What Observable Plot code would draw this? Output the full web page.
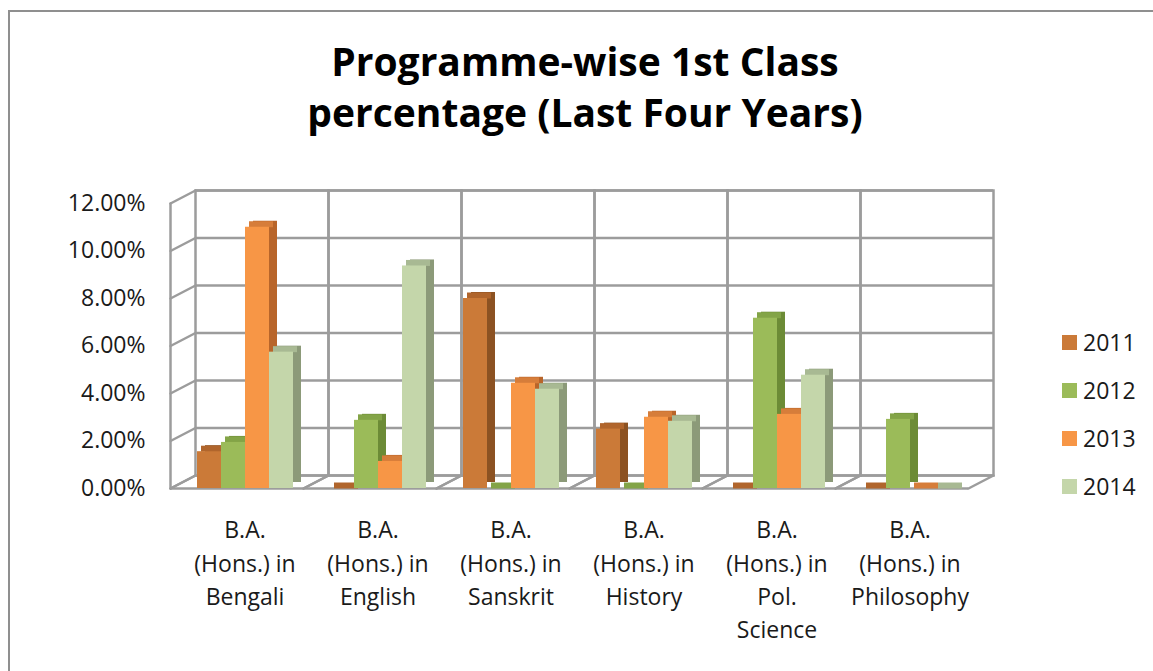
<!DOCTYPE html>
<html>
<head>
<meta charset="utf-8">
<script src="https://cdn.jsdelivr.net/npm/d3@7"></script>
<script src="https://cdn.jsdelivr.net/npm/@observablehq/plot@0.6"></script>
<style>
  html, body { margin: 0; padding: 0; background: #fff; width: 1153px; height: 671px; overflow: hidden; }
  #frame { position: absolute; left: 8px; top: 10px; width: 1300px; height: 800px;
           border-left: 2px solid #8f8f8f; border-top: 2px solid #8f8f8f; }
  .title { position: absolute; left: 235px; width: 700px; text-align: center; white-space: nowrap;
           font-family: "Open Sans", sans-serif; font-weight: 700; font-size: 39px; line-height: 46px; color: #000; }
  #title1 { top: 38px; }
  #title2 { top: 89px; }
  #chart { position: absolute; left: 0; top: 0; }
  #legend { position: absolute; left: 1062px; top: 318px; }
  .lg-swatches { margin: 0 !important; font-family: "Open Sans", sans-serif !important; font-size: 23px !important; color: #1a1a1a !important; }
  .lg-swatch { height: 48px !important; margin: 0 !important; padding: 0 !important; display: flex !important; align-items: center !important; }
  .lg-swatch > svg { margin-right: 6px !important; }
</style>
</head>
<body>
<div id="frame"></div>
<div id="chart"></div>
<div class="title" id="title1">Programme-wise 1st Class</div>
<div class="title" id="title2">percentage (Last Four Years)</div>
<div id="legend"></div>
<script>
// ---- data ----
const categories = [
  "B.A. (Hons.) in Bengali",
  "B.A. (Hons.) in English",
  "B.A. (Hons.) in Sanskrit",
  "B.A. (Hons.) in History",
  "B.A. (Hons.) in Pol. Science",
  "B.A. (Hons.) in Philosophy"
];
const categoryLabels = [
  "B.A.\n(Hons.) in\nBengali",
  "B.A.\n(Hons.) in\nEnglish",
  "B.A.\n(Hons.) in\nSanskrit",
  "B.A.\n(Hons.) in\nHistory",
  "B.A.\n(Hons.) in\nPol.\nScience",
  "B.A.\n(Hons.) in\nPhilosophy"
];
const years = ["2011", "2012", "2013", "2014"];
const values2011 = [0.0155, 0.0000, 0.0800, 0.0250, 0.0000, 0.0000];
const values2012 = [0.0194, 0.0287, 0.0000, 0.0000, 0.0717, 0.0291];
const values2013 = [0.1100, 0.0114, 0.0443, 0.0300, 0.0312, 0.0000];
const values2014 = [0.0574, 0.0937, 0.0418, 0.0283, 0.0477, 0.0000];
const yTicks = [0, 0.02, 0.04, 0.06, 0.08, 0.10, 0.12];

// ---- styles ----
const frontColors = ["#CB7A38", "#9BBB59", "#F79646", "#C4D6AA"];
const sideColors  = ["#8C5222", "#6C8B36", "#B8652A", "#8C9A79"];
const topColors   = ["#B0652C", "#83A447", "#D67D3A", "#A8B993"];

const seriesByYear = [values2011, values2012, values2013, values2014];
const data = years.flatMap((year, j) =>
  categories.map((category, i) => ({category, year, value: seriesByYear[j][i]}))
);

const gridStyle = {stroke: "#9c9c9c", strokeWidth: 2.5, strokeOpacity: 1};
const wallShift = {dx: 17, dy: -13};
const segment = {draw(context, l) { context.moveTo(0, 0); context.lineTo(0, -l); }};
const diag = {
  length: Math.hypot(25, 13),
  rotate: Math.atan2(25, 13) * 180 / Math.PI,
  anchor: "start", shape: segment, dx: -8, ...gridStyle
};

const barMarks = years.flatMap((year, j) => {
  const sub = data.filter(d => d.year === year);
  return [
    Plot.barY(sub, {fx: "category", x: "year", y: "value", fill: sideColors[j], dx: 8, dy: -6}),
    Plot.tickY(sub, {fx: "category", x: "year", y: "value", stroke: topColors[j], strokeWidth: 6, dx: 4, dy: -3}),
    Plot.barY(sub, {fx: "category", x: "year", y: "value", fill: frontColors[j]})
  ];
});

const chart = Plot.plot({
  width: 1153,
  height: 671,
  marginLeft: 178,
  marginRight: 177,
  marginTop: 203,
  marginBottom: 183,
  style: {fontFamily: "'Open Sans', sans-serif", color: "#1a1a1a", background: "transparent", overflow: "visible"},
  fx: {domain: categories, padding: 0, axis: null},
  x: {domain: years, paddingInner: 0, paddingOuter: 0.75, axis: null},
  y: {domain: [0, 0.12], axis: null},
  marks: [
    // back wall
    Plot.ruleY(yTicks, {...gridStyle, ...wallShift}),
    Plot.frame({...gridStyle, ...wallShift}),
    // floor
    Plot.ruleY([0], {...gridStyle, dx: -8}),
    Plot.vector([0], {...diag, frameAnchor: "bottom-left"}),
    Plot.vector([0], {...diag, frameAnchor: "bottom-right"}),
    // left side wall
    Plot.vector(yTicks, {...diag, y: d => d, fx: () => categories[0], frameAnchor: "left"}),
    Plot.vector([categories[0]], {...gridStyle, fx: d => d, frameAnchor: "bottom-left", anchor: "start",
      shape: segment, length: 285, rotate: 0, dx: -8}),
    // bars
    ...barMarks,
    // axes
    Plot.axisY({ticks: yTicks, tickFormat: d3.format(".2%"), tickSize: 0, tickPadding: 33, fontSize: 23, label: null}),
    Plot.text(categories, {
      fx: d => d,
      text: d => categoryLabels[categories.indexOf(d)],
      frameAnchor: "bottom", lineAnchor: "top", dy: 26,
      fontSize: 23, lineHeight: 1.45, fill: "#1a1a1a"
    })
  ]
});
document.getElementById("chart").append(chart);

const legend = Plot.legend({
  color: {type: "ordinal", domain: years, range: frontColors},
  columns: 1,
  swatchSize: 15,
  className: "lg"
});
document.getElementById("legend").append(legend);
</script>
</body>
</html>
